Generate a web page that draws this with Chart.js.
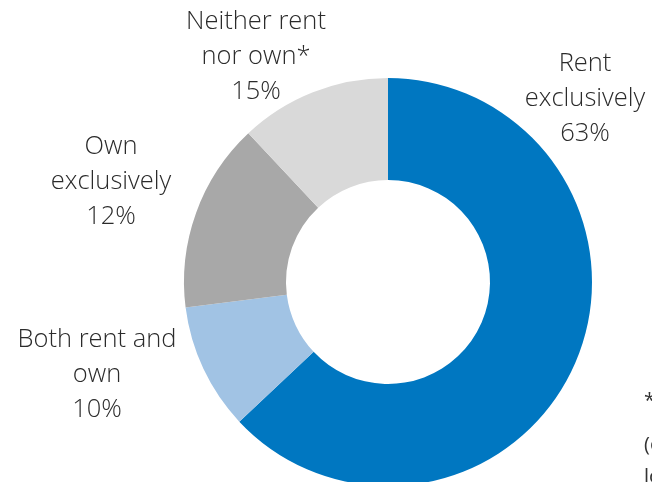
<!DOCTYPE html>
<html>
<head>
<meta charset="utf-8">
<script src="https://cdn.jsdelivr.net/npm/chart.js@4.4.1/dist/chart.umd.min.js"></script>
<style>
  html, body { margin: 0; padding: 0; background: #fff; overflow: hidden; }
  #wrap { position: relative; width: 652px; height: 482px; overflow: hidden; }
  canvas { position: absolute; left: 0; top: 0; }
  .note { position: absolute; left: 644px; font-family: 'Open Sans', sans-serif; font-size: 20px; color: #333; white-space: nowrap; }
</style>
</head>
<body>
<div id="wrap">
  <canvas id="donut" width="652" height="600"></canvas>
  <div class="note" style="top:386px">* Includes</div>
  <div class="note" style="top:430px">(e.g.</div>
  <div class="note" style="top:462px">lodging</div>
</div>
<script>
// Share of respondents by housing arrangement
const categories = ['Rent exclusively', 'Both rent and own', 'Own exclusively', 'Neither rent nor own*'];
// slice sizes as drawn in the picture (the printed labels differ slightly)
const shares = [63, 10, 15, 12];
const printedPct = ['63%', '10%', '12%', '15%'];
const sliceColors = ['#0077c1', '#a1c3e4', '#a8a8a8', '#d9d9d9'];

// label text split into lines, with where each block sits
const labelLines = [
  ['Rent', 'exclusively'],
  ['Both rent and', 'own'],
  ['Own', 'exclusively'],
  ['Neither rent', 'nor own*']
];
const labelSpots = [
  { x: 585, y: 64 },
  { x: 97, y: 340 },
  { x: 111, y: 147 },
  { x: 256, y: 22 }
];

const sliceLabels = {
  id: 'sliceLabels',
  afterDraw(chart) {
    const ctx = chart.ctx;
    ctx.save();
    ctx.font = '300 25.5px "Open Sans", sans-serif';
    ctx.fillStyle = '#2b2b2b';
    ctx.textAlign = 'center';
    ctx.textBaseline = 'middle';
    labelLines.forEach((lines, i) => {
      const all = lines.concat([printedPct[i]]);
      all.forEach((t, j) => {
        ctx.fillText(t, labelSpots[i].x, labelSpots[i].y + j * 35);
      });
    });
    ctx.restore();
  }
};

new Chart(document.getElementById('donut'), {
  type: 'doughnut',
  data: {
    labels: categories,
    datasets: [{
      data: shares,
      backgroundColor: sliceColors,
      borderWidth: 0
    }]
  },
  options: {
    responsive: false,
    animation: false,
    cutout: '50%',
    layout: { padding: { left: 184, right: 60, top: 78, bottom: 114 } },
    plugins: {
      legend: { display: false },
      tooltip: { enabled: false }
    }
  },
  plugins: [sliceLabels]
});
</script>
</body>
</html>
